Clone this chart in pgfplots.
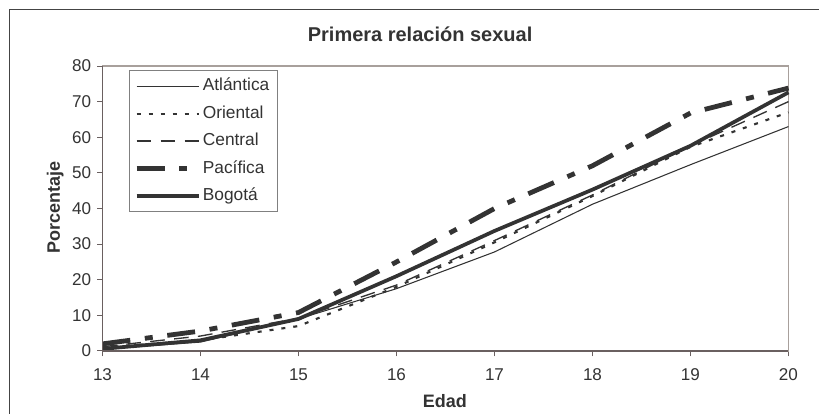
\documentclass[border=0pt]{standalone}
\usepackage{pgfplots}
\pgfplotsset{compat=1.18}
\usepackage{fontspec}
\setmainfont{Liberation Sans}

\definecolor{ink}{HTML}{333333}
\definecolor{boxc}{HTML}{A8A09C}
\definecolor{axc}{HTML}{6A6060}
\definecolor{frame}{HTML}{444444}

\begin{document}
\begin{tikzpicture}
\begin{axis}[
  at={(76.875pt,47.25pt)}, anchor=south west,
  scale only axis, width=514.5pt, height=213.75pt,
  xmin=13, xmax=20, ymin=0, ymax=80,
  xtick={13,14,...,20}, ytick={0,10,...,80},
  tick align=outside, tick pos=left, major tick length=4pt,
  axis line style={boxc, line width=1pt},
  tick style={axc, line width=0.75pt},
  ticklabel style={font=\fontsize{12.8}{15}\selectfont, text=ink},
  /pgf/number format/assume math mode=true,
  xticklabel style={yshift=-5.5pt},
  yticklabel style={xshift=-1pt},
  every axis title shift=0pt,
  title={\textbf{Primera relación sexual}},
  title style={at={(rel axis cs:0.463,1.11)}, anchor=center, font=\fontsize{15}{18}\selectfont, text=ink},
  xlabel={\textbf{Edad}},
  xlabel style={at={(rel axis cs:0.499,-0.177)}, anchor=center, font=\fontsize{13.5}{16}\selectfont, text=ink},
  ylabel={\textbf{Porcentaje}},
  ylabel style={at={(rel axis cs:-0.069,0.503)}, anchor=center, font=\fontsize{13.5}{16}\selectfont, text=ink},
  legend cell align=left,
  legend image code/.code={\draw[#1] (0pt,0pt) -- (47pt,0pt);},
  legend style={at={(0.039,0.986)}, anchor=north west, draw=gray, line width=0.6pt,
    fill=white, font=\fontsize{13}{15}\selectfont, text=ink,
    inner xsep=3.5pt, inner ysep=4.5pt, column sep=0pt, row sep=6pt,
    nodes={inner sep=0.8pt, text height=10pt, text depth=3pt}},
  clip=false,
]
% Atlántica
\addplot[ink, line width=0.8pt] coordinates {
  (13,0.5) (14,2.5) (15,9) (16,17.5) (17,27.8) (18,41.2) (19,52.3) (20,63)};
\addlegendentry{Atlántica\hspace*{1.5pt}}
% Oriental
\addplot[ink, line width=1.6pt, dash pattern=on 3pt off 6pt] coordinates {
  (13,1) (14,3) (15,7) (16,18) (17,30.5) (18,43.5) (19,57.3) (20,67)};
\addlegendentry{Oriental}
% Central
\addplot[ink, line width=1pt, dash pattern=on 11pt off 7pt] coordinates {
  (13,1.2) (14,4.2) (15,9.2) (16,18.5) (17,31) (18,43.8) (19,57.6) (20,70)};
\addlegendentry{Central}
% Pacífica
\addplot[ink, line width=3.6pt, dash pattern=on 21pt off 11pt on 6pt off 11pt] coordinates {
  (13,2) (14,5.6) (15,10.8) (16,25) (17,40) (18,52) (19,66.8) (20,73.8)};
\addlegendentry{Pacífica}
% Bogotá
\addplot[ink, line width=2.8pt] coordinates {
  (13,0.6) (14,3) (15,9) (16,21) (17,33.7) (18,45.3) (19,57.6) (20,72.6)};
\addlegendentry{Bogotá}
% darker left and bottom axis lines
\draw[axc, line width=1pt] (rel axis cs:0,1) -- (rel axis cs:0,0) -- (rel axis cs:1,0);
\end{axis}
% outer chart frame
\draw[frame, line width=0.9pt] (7pt,-10pt) -- (7pt,303.5pt) -- (625pt,303.5pt);
\pgfresetboundingbox
\useasboundingbox (0,0) rectangle (614.25pt,310.5pt);
\end{tikzpicture}
\end{document}
